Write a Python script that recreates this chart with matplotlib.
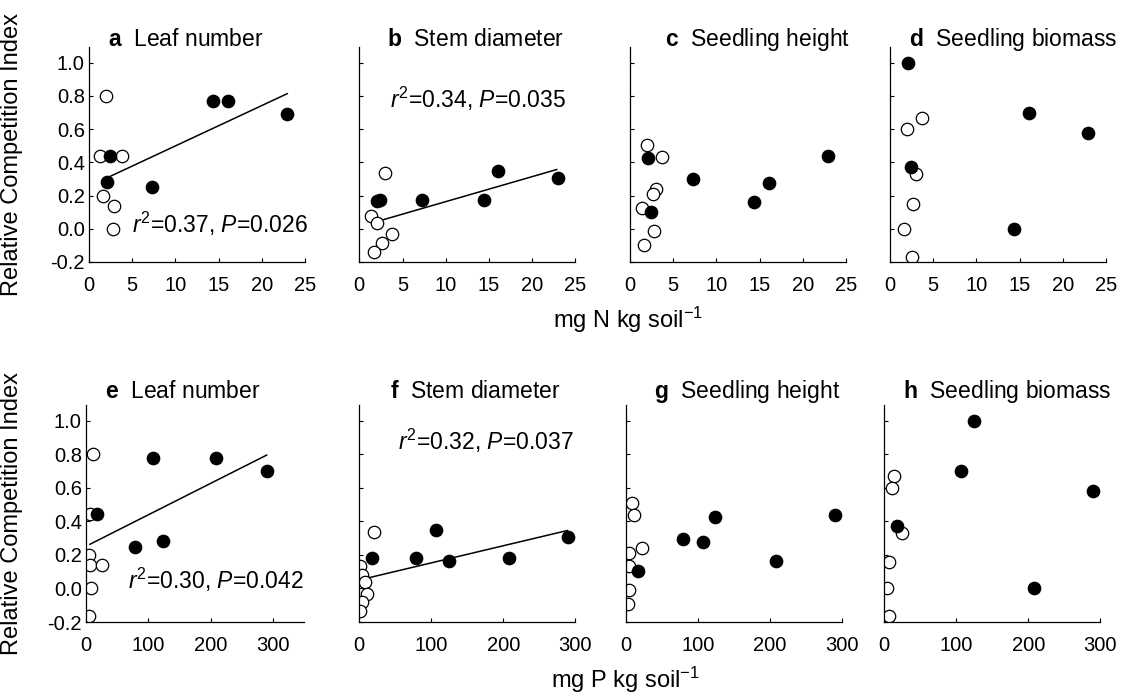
import matplotlib
matplotlib.use("Agg")
import matplotlib.pyplot as plt
import numpy as np

plt.rcParams['font.family'] = ['Liberation Sans', 'DejaVu Sans']
plt.rcParams['mathtext.fontset'] = 'custom'
plt.rcParams['mathtext.rm'] = 'Liberation Sans'
plt.rcParams['mathtext.it'] = 'Liberation Sans:italic'
plt.rcParams['mathtext.bf'] = 'Liberation Sans:bold'
plt.rcParams['axes.unicode_minus'] = False

# --- Data ---

# nutrient level of the filled (field) points, shared by the panels of one row
n_filled_x = [2.1, 2.45, 7.28, 14.4, 16.05, 22.95]
p_filled_x = [124, 17, 79, 208.5, 107, 290.5]

a_filled_y = [0.28, 0.44, 0.25, 0.77, 0.77, 0.69]
b_filled_y = [0.168, 0.176, 0.176, 0.176, 0.349, 0.307]
c_filled_y = [0.425, 0.102, 0.297, 0.162, 0.277, 0.439]
d_filled_y = [1.0, 0.373, np.nan, 0.0, 0.70, 0.579]
e_filled_y = [0.284, 0.446, 0.25, 0.78, 0.78, 0.70]
f_filled_y = [0.166, 0.18, 0.18, 0.18, 0.35, 0.31]
g_filled_y = [0.426, 0.106, 0.296, 0.166, 0.276, 0.44]
h_filled_y = [1.0, 0.374, np.nan, 0.0, 0.704, 0.584]

# open points
a_open_x = [1.27, 1.97, 3.78, 1.66, 2.89, 2.74]
a_open_y = [0.44, 0.80, 0.44, 0.20, 0.14, 0.0]
b_open_x = [2.97, 1.35, 2.0, 3.75, 2.67, 1.7]
b_open_y = [0.337, 0.076, 0.032, -0.034, -0.084, -0.138]
c_open_x = [1.93, 3.74, 2.97, 2.62, 1.35, 2.78, 1.66]
c_open_y = [0.503, 0.433, 0.238, 0.208, 0.128, -0.012, -0.098]
d_open_x = [3.74, 2.0, 2.97, 2.7, 1.62, 2.58]
d_open_y = [0.667, 0.599, 0.333, 0.152, 0.0, -0.168]
e_open_x = [11.8, 6.4, 5.4, 6.4, 25.2, 8.0, 5.4]
e_open_y = [0.80, 0.446, 0.20, 0.14, 0.14, 0.0, -0.166]
f_open_x = [20.5, 1.0, 4.2, 8.0, 11.2, 3.3, 1.0]
f_open_y = [0.336, 0.134, 0.08, 0.04, -0.03, -0.08, -0.134]
g_open_x = [9.3, 11.6, 22.3, 4.6, 5.1, 4.6, 2.7]
g_open_y = [0.51, 0.436, 0.24, 0.21, 0.134, -0.01, -0.09]
h_open_x = [13.5, 10.3, 24.2, 6.6, 4.2, 6.6]
h_open_y = [0.67, 0.60, 0.334, 0.156, 0.0, -0.164]

# fitted regression lines (end points)
a_fit_x = [2.05, 22.95]
a_fit_y = [0.306, 0.814]
b_fit_x = [1.93, 22.85]
b_fit_y = [0.042, 0.357]
e_fit_x = [6.4, 290]
e_fit_y = [0.264, 0.796]
f_fit_x = [3.3, 289]
f_fit_y = [0.054, 0.346]

letters = ['a', 'b', 'c', 'd', 'e', 'f', 'g', 'h']
titles = ['Leaf number', 'Stem diameter', 'Seedling height', 'Seedling biomass'] * 2
stats = {'a': r'$r^2$=0.37, $P$=0.026', 'b': r'$r^2$=0.34, $P$=0.035',
         'e': r'$r^2$=0.30, $P$=0.042', 'f': r'$r^2$=0.32, $P$=0.037'}
yticks = [-0.2, 0.0, 0.2, 0.4, 0.6, 0.8, 1.0]

# --- Layout (pixel boxes: left, top, right, bottom) ---
W, H = 1133, 699
boxes = [(89, 47, 305, 262), (359.3, 47, 575.3, 262), (630, 47, 846, 262), (890, 47, 1106, 262),
         (86, 405, 304, 622), (359.3, 405, 575.3, 622), (625.7, 405, 841.7, 622), (884.3, 405, 1100.3, 622)]
title_off = [19, 28, 35, 19, 19, 31, 28, 19]
stat_pos = {'a': (5.0, -0.025), 'b': (3.55, 0.73), 'e': (68, 0.0), 'f': (54, 0.83)}
xlims = [25, 25, 25, 25, 350, 300, 300, 300]

filled_y = [a_filled_y, b_filled_y, c_filled_y, d_filled_y,
            e_filled_y, f_filled_y, g_filled_y, h_filled_y]
open_xy = [(a_open_x, a_open_y), (b_open_x, b_open_y), (c_open_x, c_open_y), (d_open_x, d_open_y),
           (e_open_x, e_open_y), (f_open_x, f_open_y), (g_open_x, g_open_y), (h_open_x, h_open_y)]
fits = {'a': (a_fit_x, a_fit_y), 'b': (b_fit_x, b_fit_y),
        'e': (e_fit_x, e_fit_y), 'f': (f_fit_x, f_fit_y)}

fig = plt.figure(figsize=(W / 100, H / 100), dpi=100)

for i, let in enumerate(letters):
    l, t, r, b = boxes[i]
    ax = fig.add_axes([l / W, 1 - b / H, (r - l) / W, (b - t) / H])
    fx = n_filled_x if i < 4 else p_filled_x
    ox, oy = open_xy[i]

    if let in fits:
        ax.plot(*fits[let], color='black', lw=1.1, zorder=1)
    ax.scatter(ox, oy, s=80, facecolor='white', edgecolor='black', linewidth=0.9, zorder=2)
    ax.scatter(fx, filled_y[i], s=80, facecolor='black', edgecolor='black', linewidth=0.9, zorder=3)

    ax.set_xlim(0, xlims[i])
    ax.set_ylim(-0.2, 1.095)
    ax.set_yticks(yticks)
    if i < 4:
        ax.set_xticks([0, 5, 10, 15, 20, 25])
    else:
        ax.set_xticks([0, 100, 200, 300])
    for side in ['top', 'right']:
        ax.spines[side].set_visible(False)
    for side in ['left', 'bottom']:
        ax.spines[side].set_linewidth(0.9)
    ax.tick_params(direction='in', length=3, width=0.8, labelsize=14.5)
    ax.tick_params(axis='x', pad=10)
    ax.tick_params(axis='y', pad=3)
    if i % 4 == 0:
        ax.yaxis.set_major_formatter(matplotlib.ticker.FormatStrFormatter('%.1f'))
        ax.set_ylabel('Relative Competition Index', fontsize=17)
        ax.yaxis.set_label_coords((23 - l) / (r - l), 0.5)
    else:
        ax.set_yticklabels([])

    ty = 1.005 if i < 4 else 1.03
    ax.text(title_off[i] / (r - l), ty, r'$\mathbf{%s}$  %s' % (let, titles[i]),
            transform=ax.transAxes, fontsize=16.5, va='baseline', ha='left')

    if let in stats:
        sx, sy = stat_pos[let]
        ax.text(sx, sy, stats[let], fontsize=16.5, va='baseline', ha='left')

fig.text(628 / W, 1 - 328 / H, r'mg N kg soil$^{-1}$', fontsize=17, ha='center', va='baseline')
fig.text(625 / W, 1 - 688 / H, r'mg P kg soil$^{-1}$', fontsize=17, ha='center', va='baseline')

fig.savefig('out.png', dpi=100)
